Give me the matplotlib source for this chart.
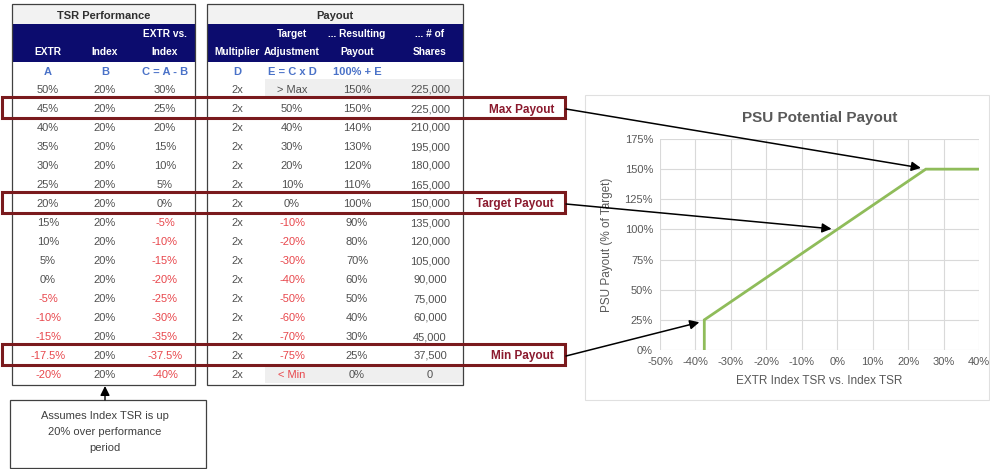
import matplotlib
matplotlib.use("Agg")
import matplotlib.pyplot as plt
from matplotlib.patches import Rectangle, ConnectionPatch, FancyArrowPatch
from matplotlib.ticker import FuncFormatter

plt.rcParams["font.family"] = ["Liberation Sans", "DejaVu Sans"]

# table data
extr = ["50%", "45%", "40%", "35%", "30%", "25%", "20%", "15%",
        "10%", "5%", "0%", "-5%", "-10%", "-15%", "-17.5%", "-20%"]
index_tsr = ["20%", "20%", "20%", "20%", "20%", "20%", "20%", "20%",
             "20%", "20%", "20%", "20%", "20%", "20%", "20%", "20%"]
extr_vs_index = ["30%", "25%", "20%", "15%", "10%", "5%", "0%", "-5%",
                 "-10%", "-15%", "-20%", "-25%", "-30%", "-35%", "-37.5%", "-40%"]
multiplier = ["2x", "2x", "2x", "2x", "2x", "2x", "2x", "2x",
              "2x", "2x", "2x", "2x", "2x", "2x", "2x", "2x"]
target_adj = ["> Max", "50%", "40%", "30%", "20%", "10%", "0%", "-10%",
              "-20%", "-30%", "-40%", "-50%", "-60%", "-70%", "-75%", "< Min"]
resulting_payout = ["150%", "150%", "140%", "130%", "120%", "110%", "100%", "90%",
                    "80%", "70%", "60%", "50%", "40%", "30%", "25%", "0%"]
num_shares = ["225,000", "225,000", "210,000", "195,000", "180,000", "165,000",
              "150,000", "135,000", "120,000", "105,000", "90,000", "75,000",
              "60,000", "45,000", "37,500", "0"]

# highlighted rows
highlight_rows = [1, 6, 14]
highlight_labels = ["Max Payout", "Target Payout", "Min Payout"]

# chart data
curve_x = [-37.5, -37.5, 25, 40]
curve_y = [0, 25, 150, 150]
# where each arrow points on the chart
arrow_tips = [(23.6, 151), (-1.6, 100.5), (-38.9, 23)]

NAVY = "#0c0c6e"
GRAY_TXT = "#505050"
RED_TXT = "#e8474c"
BLUE_TXT = "#4a72c8"
BOX_RED = "#7a1a1d"
LABEL_RED = "#8b1a2e"

fig = plt.figure(figsize=(9.9, 4.69), dpi=100)
bg = fig.add_axes([0, 0, 1, 1])
bg.set_xlim(0, 990)
bg.set_ylim(469, 0)
bg.axis("off")

row_y0 = 89
row_h = 19.0
fs = 8
hfs = 7.3
BASE = 4  # baseline offset below the row centre, in pixels


def row_center(i):
    return row_y0 + i * row_h


def cell_color(s):
    return RED_TXT if (s.startswith("-") or s.startswith("<")) else GRAY_TXT


def cell(x, y, s, **kw):
    bg.text(x, y + BASE, s, ha="center", va="baseline", **kw)


# ---- left table ----
lx0, lx1 = 12, 195
bg.add_patch(Rectangle((lx0, 4), lx1 - lx0, 20, facecolor="#f2f2f2", edgecolor="none"))
bg.add_patch(Rectangle((lx0, 24), lx1 - lx0, 38, facecolor=NAVY, edgecolor="none"))
bg.add_patch(Rectangle((lx0, 4), lx1 - lx0, 381, facecolor="none", edgecolor="#404040", lw=0.9))
cell((lx0 + lx1) / 2, 15, "TSR Performance", fontsize=8, fontweight="bold", color="#303030")
left_cols = [48, 105, 165]
cell(left_cols[2], 33, "EXTR vs.", fontsize=hfs, fontweight="bold", color="white")
for cx, lab in zip(left_cols, ["EXTR", "Index", "Index"]):
    cell(cx, 51, lab, fontsize=hfs, fontweight="bold", color="white")
for cx, lab in zip(left_cols, ["A", "B", "C = A - B"]):
    cell(cx, 71, lab, fontsize=fs, fontweight="bold", color=BLUE_TXT)
for i in range(len(extr)):
    y = row_center(i)
    for cx, col in zip(left_cols, [extr, index_tsr, extr_vs_index]):
        cell(cx, y, col[i], fontsize=fs, color=cell_color(col[i]))

# ---- right table ----
rx0, rx1 = 207, 463
bg.add_patch(Rectangle((rx0, 4), rx1 - rx0, 20, facecolor="#f2f2f2", edgecolor="none"))
bg.add_patch(Rectangle((rx0, 24), rx1 - rx0, 38, facecolor=NAVY, edgecolor="none"))
for i in [0, len(extr) - 1]:
    bg.add_patch(Rectangle((265, row_center(i) - row_h / 2), rx1 - 265, row_h,
                           facecolor="#efefef", edgecolor="none"))
bg.add_patch(Rectangle((rx0, 4), rx1 - rx0, 381, facecolor="none", edgecolor="#404040", lw=0.9))
cell((rx0 + rx1) / 2, 15, "Payout", fontsize=8, fontweight="bold", color="#303030")
right_cols = [237, 292, 357, 430]
for cx, lab in zip(right_cols[1:], ["Target", "... Resulting", "... # of"]):
    cell(cx, 33, lab, fontsize=hfs, fontweight="bold", color="white")
for cx, lab in zip(right_cols, ["Multiplier", "Adjustment", "Payout", "Shares"]):
    cell(cx, 51, lab, fontsize=hfs, fontweight="bold", color="white")
for cx, lab in zip(right_cols[:3], ["D", "E = C x D", "100% + E"]):
    cell(cx, 71, lab, fontsize=fs, fontweight="bold", color=BLUE_TXT)
for i in range(len(extr)):
    y = row_center(i)
    for cx, col in zip(right_cols, [multiplier, target_adj, resulting_payout, num_shares]):
        cell(cx, y, col[i], fontsize=fs, color=cell_color(col[i]))

# ---- highlight boxes and labels ----
for r, lab in zip(highlight_rows, highlight_labels):
    y = row_center(r)
    bg.add_patch(Rectangle((2, y - 10.5), 563, 21, facecolor="none", edgecolor=BOX_RED, lw=2.2))
    bg.text(554, y + 4.5, lab, ha="right", va="baseline", fontsize=8.5,
            fontweight="bold", color=LABEL_RED)

# ---- note box ----
bg.add_patch(Rectangle((10, 400), 196, 68, facecolor="white", edgecolor="#404040", lw=0.9))
bg.text(105, 432, "Assumes Index TSR is up\n20% over performance\nperiod", ha="center",
        va="center", fontsize=8, color="#404040", linespacing=1.75)
bg.add_patch(FancyArrowPatch((105, 400), (105, 386), arrowstyle="-|>", mutation_scale=14,
                             color="black", lw=1.0, shrinkA=0, shrinkB=0))

# ---- chart ----
bg.add_patch(Rectangle((585, 95), 404, 305, facecolor="white", edgecolor="#e0e0e0", lw=0.8))
W, H = 990, 469
pl, pr, pt, pb = 660, 979, 139, 350
ax = fig.add_axes([pl / W, (H - pb) / H, (pr - pl) / W, (pb - pt) / H])
ax.plot(curve_x, curve_y, color="#8fbc5a", lw=2.0, solid_joinstyle="miter")
ax.set_xlim(-50, 40)
ax.set_ylim(0, 175)
ax.set_xticks(range(-50, 41, 10))
ax.set_yticks(range(0, 176, 25))
pct = FuncFormatter(lambda v, _: f"{v:.0f}%")
ax.xaxis.set_major_formatter(pct)
ax.yaxis.set_major_formatter(pct)
ax.grid(True, color="#d9d9d9", lw=0.8)
ax.set_axisbelow(True)
for s in ax.spines.values():
    s.set_visible(False)
ax.tick_params(length=0, labelsize=8, colors="#595959", pad=5)
ax.set_xlabel("EXTR Index TSR vs. Index TSR", fontsize=8.5, color="#595959", labelpad=6)
ax.set_ylabel("PSU Payout (% of Target)", fontsize=8.5, color="#595959", labelpad=8)
ax.set_title("PSU Potential Payout", fontsize=11, fontweight="bold", color="#595959", pad=12)
ax.set_facecolor("none")

# ---- arrows from labels to chart ----
for r, tip in zip(highlight_rows, arrow_tips):
    y = row_center(r) + 1
    con = ConnectionPatch(xyA=(566, y), coordsA=bg.transData, xyB=tip, coordsB=ax.transData,
                          arrowstyle="-|>", mutation_scale=14, color="black", lw=1.1,
                          shrinkA=0, shrinkB=0)
    fig.add_artist(con)

fig.savefig("out.png", dpi=100)
